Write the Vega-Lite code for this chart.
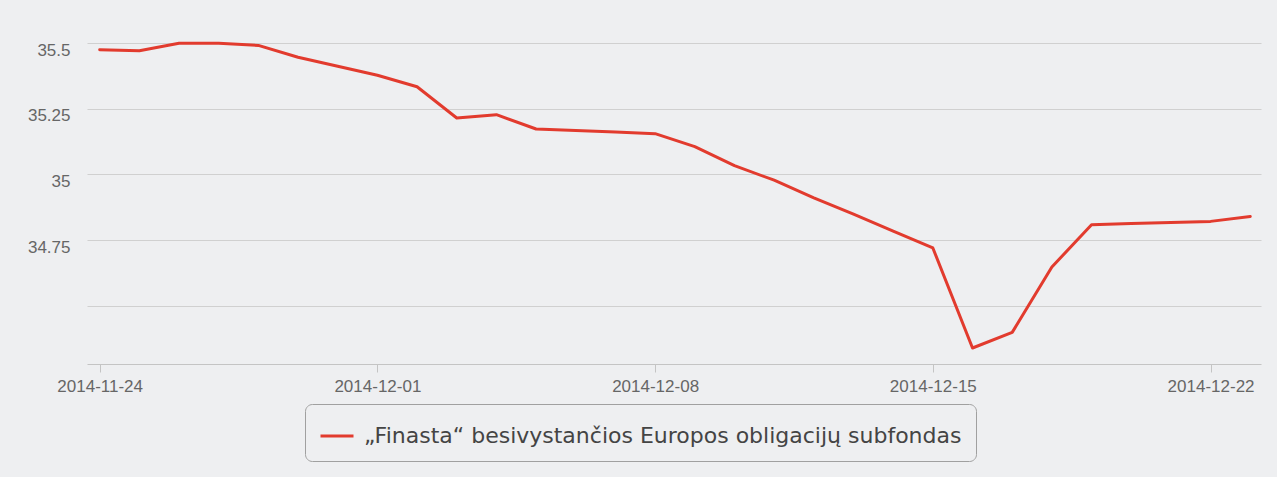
{
  "$schema": "https://vega.github.io/schema/vega-lite/v6.json",
  "width": 1174,
  "height": 321,
  "autosize": "none",
  "padding": {"left": 87, "top": 43, "right": 16, "bottom": 113},
  "background": "#eeeff1",
  "config": {"view": {"stroke": null}, "font": "Liberation Sans"},
  "data": {"values": [
    {"date": "2014-11-24", "value": 35.4745, "series": "„Finasta“ besivystančios Europos obligacijų subfondas"},
    {"date": "2014-11-25", "value": 35.4707, "series": "„Finasta“ besivystančios Europos obligacijų subfondas"},
    {"date": "2014-11-26", "value": 35.499, "series": "„Finasta“ besivystančios Europos obligacijų subfondas"},
    {"date": "2014-11-27", "value": 35.499, "series": "„Finasta“ besivystančios Europos obligacijų subfondas"},
    {"date": "2014-11-28", "value": 35.4909, "series": "„Finasta“ besivystančios Europos obligacijų subfondas"},
    {"date": "2014-11-29", "value": 35.446, "series": "„Finasta“ besivystančios Europos obligacijų subfondas"},
    {"date": "2014-11-30", "value": 35.4117, "series": "„Finasta“ besivystančios Europos obligacijų subfondas"},
    {"date": "2014-12-01", "value": 35.3775, "series": "„Finasta“ besivystančios Europos obligacijų subfondas"},
    {"date": "2014-12-02", "value": 35.3337, "series": "„Finasta“ besivystančios Europos obligacijų subfondas"},
    {"date": "2014-12-03", "value": 35.2146, "series": "„Finasta“ besivystančios Europos obligacijų subfondas"},
    {"date": "2014-12-04", "value": 35.2272, "series": "„Finasta“ besivystančios Europos obligacijų subfondas"},
    {"date": "2014-12-05", "value": 35.1728, "series": "„Finasta“ besivystančios Europos obligacijų subfondas"},
    {"date": "2014-12-06", "value": 35.1674, "series": "„Finasta“ besivystančios Europos obligacijų subfondas"},
    {"date": "2014-12-07", "value": 35.1613, "series": "„Finasta“ besivystančios Europos obligacijų subfondas"},
    {"date": "2014-12-08", "value": 35.1549, "series": "„Finasta“ besivystančios Europos obligacijų subfondas"},
    {"date": "2014-12-09", "value": 35.1054, "series": "„Finasta“ besivystančios Europos obligacijų subfondas"},
    {"date": "2014-12-10", "value": 35.0331, "series": "„Finasta“ besivystančios Europos obligacijų subfondas"},
    {"date": "2014-12-11", "value": 34.978, "series": "„Finasta“ besivystančios Europos obligacijų subfondas"},
    {"date": "2014-12-12", "value": 34.911, "series": "„Finasta“ besivystančios Europos obligacijų subfondas"},
    {"date": "2014-12-13", "value": 34.8485, "series": "„Finasta“ besivystančios Europos obligacijų subfondas"},
    {"date": "2014-12-14", "value": 34.7838, "series": "„Finasta“ besivystančios Europos obligacijų subfondas"},
    {"date": "2014-12-15", "value": 34.72, "series": "„Finasta“ besivystančios Europos obligacijų subfondas"},
    {"date": "2014-12-16", "value": 34.3394, "series": "„Finasta“ besivystančios Europos obligacijų subfondas"},
    {"date": "2014-12-17", "value": 34.3988, "series": "„Finasta“ besivystančios Europos obligacijų subfondas"},
    {"date": "2014-12-18", "value": 34.6476, "series": "„Finasta“ besivystančios Europos obligacijų subfondas"},
    {"date": "2014-12-19", "value": 34.8086, "series": "„Finasta“ besivystančios Europos obligacijų subfondas"},
    {"date": "2014-12-20", "value": 34.8128, "series": "„Finasta“ besivystančios Europos obligacijų subfondas"},
    {"date": "2014-12-21", "value": 34.817, "series": "„Finasta“ besivystančios Europos obligacijų subfondas"},
    {"date": "2014-12-22", "value": 34.8212, "series": "„Finasta“ besivystančios Europos obligacijų subfondas"},
    {"date": "2014-12-23", "value": 34.8402, "series": "„Finasta“ besivystančios Europos obligacijų subfondas"}
  ]},
  "mark": {"type": "line", "strokeWidth": 3, "strokeJoin": "round", "strokeCap": "round"},
  "encoding": {
    "x": {
      "field": "date",
      "type": "temporal",
      "scale": {
        "type": "utc",
        "domain": [
          {"year": 2014, "month": 11, "date": 23, "hours": 16, "minutes": 20, "utc": true},
          {"year": 2014, "month": 12, "date": 23, "hours": 6, "minutes": 30, "utc": true}
        ]
      },
      "axis": {
        "title": null,
        "values": [
          {"year": 2014, "month": 11, "date": 24, "utc": true},
          {"year": 2014, "month": 12, "date": 1, "utc": true},
          {"year": 2014, "month": 12, "date": 8, "utc": true},
          {"year": 2014, "month": 12, "date": 15, "utc": true},
          {"year": 2014, "month": 12, "date": 22, "utc": true}
        ],
        "format": "%Y-%m-%d",
        "grid": false,
        "domainColor": "#c4c4c4",
        "domainWidth": 1.2,
        "tickColor": "#c4c4c4",
        "tickSize": 8,
        "labelFontSize": 17,
        "labelColor": "#666666",
        "labelPadding": 6,
        "labelFlush": false,
        "labelOverlap": false
      }
    },
    "y": {
      "field": "value",
      "type": "quantitative",
      "scale": {"domain": [34.2785, 35.5], "nice": false, "zero": false},
      "axis": {
        "title": null,
        "values": [34.5, 34.75, 35, 35.25, 35.5],
        "labelExpr": "datum.value == 34.5 ? '' : '' + datum.value",
        "domain": false,
        "ticks": false,
        "gridColor": "#d0d0d0",
        "gridWidth": 1.2,
        "labelFontSize": 17,
        "labelColor": "#666666",
        "labelPadding": 17,
        "labelOffset": 7
      }
    },
    "color": {
      "field": "series",
      "type": "nominal",
      "scale": {"range": ["#e23b2e"]},
      "legend": {
        "title": null,
        "orient": "none",
        "legendX": 218,
        "legendY": 361,
        "direction": "horizontal",
        "strokeColor": "#a0a0a0",
        "cornerRadius": 7,
        "padding": 14,
        "fillColor": "#eeeff1",
        "labelFontSize": 22,
        "labelColor": "#444444",
        "labelFont": "DejaVu Sans",
        "labelLimit": 1000,
        "labelOffset": 9,
        "symbolType": "stroke",
        "symbolSize": 1089,
        "symbolStrokeWidth": 3
      }
    }
  }
}
